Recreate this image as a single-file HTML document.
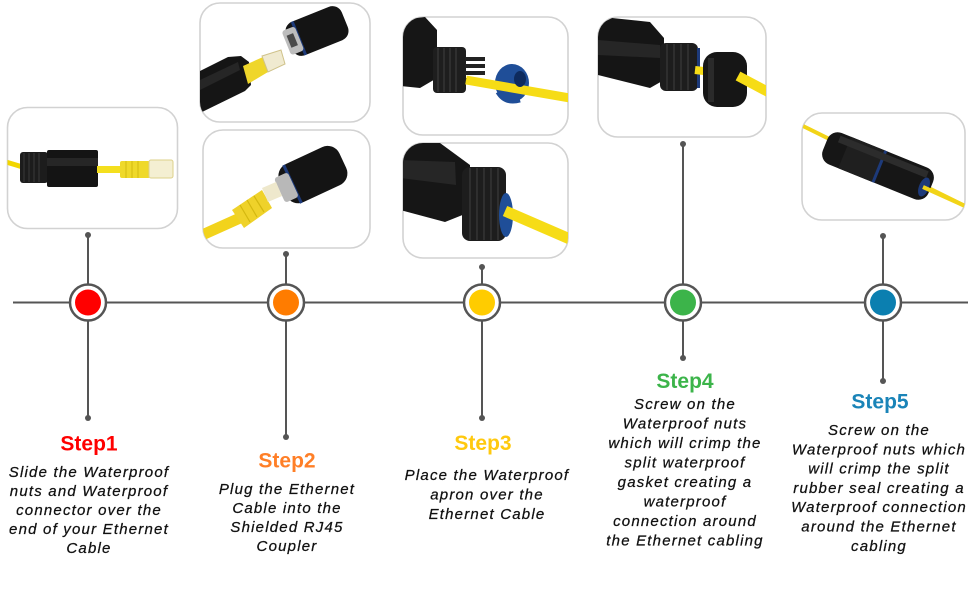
<!DOCTYPE html>
<html><head><meta charset="utf-8">
<style>
html,body{margin:0;padding:0;background:#fff;}
body{width:970px;height:600px;overflow:hidden;}
svg{display:block;}
.lb{font-family:"Liberation Sans",Arial,sans-serif;font-weight:bold;font-size:21px;text-anchor:middle;}
.tx{font-family:"Liberation Sans",Arial,sans-serif;font-style:italic;font-size:15px;letter-spacing:1.2px;fill:#111;stroke:#111;stroke-width:0.25px;text-anchor:middle;}
</style></head>
<body>
<svg width="970" height="600" viewBox="0 0 970 600" xmlns="http://www.w3.org/2000/svg">
<defs>
<clipPath id="c1"><rect x="7.5" y="107.5" width="170" height="121" rx="20"/></clipPath>
<clipPath id="c2a"><rect x="200" y="3" width="170" height="119" rx="20"/></clipPath>
<clipPath id="c2b"><rect x="203" y="130" width="167" height="118" rx="20"/></clipPath>
<clipPath id="c3a"><rect x="403" y="17" width="165" height="118" rx="20"/></clipPath>
<clipPath id="c3b"><rect x="403" y="143" width="165" height="115" rx="20"/></clipPath>
<clipPath id="c4"><rect x="598" y="17" width="168" height="120" rx="20"/></clipPath>
<clipPath id="c5"><rect x="802" y="113" width="163" height="107" rx="20"/></clipPath>
</defs>

<!-- Photo boxes -->
<g stroke="#d2d2d2" stroke-width="1.6" fill="#fff">
<rect x="7.5" y="107.5" width="170" height="121" rx="20"/>
<rect x="200" y="3" width="170" height="119" rx="20"/>
<rect x="203" y="130" width="167" height="118" rx="20"/>
<rect x="403" y="17" width="165" height="118" rx="20"/>
<rect x="403" y="143" width="165" height="115" rx="20"/>
<rect x="598" y="17" width="168" height="120" rx="20"/>
<rect x="802" y="113" width="163" height="107" rx="20"/>
</g>

<!-- Box1 photo -->
<g clip-path="url(#c1)">
<line x1="6" y1="162" x2="26" y2="168" stroke="#f2d600" stroke-width="5"/>
<rect x="20" y="152" width="28" height="31" rx="3" fill="#1c1c1c"/>
<g stroke="#3a3a3a" stroke-width="1"><line x1="24" y1="153" x2="24" y2="182"/><line x1="29" y1="153" x2="29" y2="182"/><line x1="34" y1="153" x2="34" y2="182"/><line x1="39" y1="153" x2="39" y2="182"/></g>
<rect x="47" y="150" width="51" height="37" rx="2" fill="#141414"/>
<rect x="47" y="158" width="51" height="8" fill="#262626"/>
<rect x="97" y="166" width="25" height="7" fill="#f4df1e"/>
<rect x="120" y="161" width="30" height="17" rx="2" fill="#efd92a"/>
<g stroke="#d8c015" stroke-width="1.2"><line x1="126" y1="161" x2="126" y2="178"/><line x1="132" y1="161" x2="132" y2="178"/><line x1="138" y1="161" x2="138" y2="178"/></g>
<rect x="149" y="160" width="24" height="18" rx="2" fill="#f4efd2" stroke="#ddd08a" stroke-width="1"/>
</g>

<!-- Box2a photo -->
<g clip-path="url(#c2a)">
<polygon points="198,72 228,57 241,56 249,62 251,85 245,91 198,114" fill="#151515"/>
<polygon points="200,80 238,62 240,70 200,90" fill="#262626"/>
<polygon points="243,66 263,57 268,72 248,84" fill="#efd62a"/>
<polygon points="262,56 281,50 285,64 268,72" fill="#f0ead0" stroke="#cfc28a" stroke-width="1"/>
<g transform="rotate(-22 317 31)">
<rect x="287" y="13" width="60" height="36" rx="10" fill="#141414"/>
<rect x="296" y="13" width="3" height="36" fill="#1d3a7a"/>
<rect x="284" y="18" width="14" height="26" rx="3" fill="#bdbdbd"/>
<rect x="287" y="24" width="7" height="13" fill="#4a4a4a"/>
</g>
</g>

<!-- Box2b photo -->
<g clip-path="url(#c2b)">
<line x1="200" y1="236" x2="240" y2="218" stroke="#f2d31c" stroke-width="11"/>
<polygon points="232,210 262,190 272,208 244,228" fill="#efd22a"/>
<g stroke="#d4b810" stroke-width="1.2"><line x1="240" y1="205" x2="250" y2="222"/><line x1="247" y1="200" x2="257" y2="217"/><line x1="254" y1="196" x2="264" y2="212"/></g>
<g transform="rotate(-25 312 175)">
<rect x="280" y="154" width="66" height="42" rx="13" fill="#141414"/>
<rect x="289" y="154" width="3" height="42" fill="#1d3a7a"/>
<rect x="276" y="162" width="15" height="27" rx="3" fill="#b8b8b8"/>
</g>
<polygon points="262,188 276,182 282,196 268,202" fill="#eee8cc"/>
</g>

<!-- Box3a photo -->
<g clip-path="url(#c3a)">
<polygon points="400,20 425,17 437,30 437,78 420,88 400,86" fill="#161616"/>
<rect x="433" y="47" width="33" height="46" rx="4" fill="#1e1e1e"/>
<g stroke="#3b3b3b" stroke-width="1.2"><line x1="438" y1="48" x2="438" y2="92"/><line x1="444" y1="48" x2="444" y2="92"/><line x1="450" y1="48" x2="450" y2="92"/><line x1="456" y1="48" x2="456" y2="92"/></g>
<g fill="#222"><rect x="465" y="57" width="20" height="4"/><rect x="465" y="64" width="20" height="4"/><rect x="465" y="71" width="20" height="4"/><rect x="465" y="78" width="14" height="4"/></g>
<ellipse cx="512" cy="83" rx="17" ry="19" fill="#1f4e98"/>
<line x1="466" y1="80" x2="570" y2="98" stroke="#f6dc16" stroke-width="9"/>
<ellipse cx="520" cy="79" rx="6" ry="8" fill="#0e2b5e"/>
<path d="M498,92 Q505,104 520,100" stroke="#1f4e98" stroke-width="5" fill="none"/>
</g>

<!-- Box3b photo -->
<g clip-path="url(#c3b)">
<polygon points="400,143 440,143 470,165 470,212 445,222 400,210" fill="#161616"/>
<polygon points="400,160 455,162 456,185 400,178" fill="#262626"/>
<rect x="462" y="167" width="44" height="74" rx="8" fill="#1d1d1d"/>
<g stroke="#3b3b3b" stroke-width="1.2"><line x1="470" y1="168" x2="470" y2="240"/><line x1="477" y1="168" x2="477" y2="240"/><line x1="484" y1="168" x2="484" y2="240"/><line x1="491" y1="168" x2="491" y2="240"/><line x1="498" y1="168" x2="498" y2="240"/></g>
<ellipse cx="506" cy="215" rx="7" ry="22" fill="#1f4e98"/>
<line x1="505" y1="211" x2="572" y2="240" stroke="#f6dc16" stroke-width="11"/>
</g>

<!-- Box4 photo -->
<g clip-path="url(#c4)">
<polygon points="598,25 612,18 650,22 664,38 664,80 650,88 598,75" fill="#151515"/>
<polygon points="598,40 660,45 660,58 598,55" fill="#262626"/>
<rect x="660" y="43" width="38" height="48" rx="6" fill="#1d1d1d"/>
<g stroke="#3a3a3a" stroke-width="1.2"><line x1="667" y1="44" x2="667" y2="90"/><line x1="674" y1="44" x2="674" y2="90"/><line x1="681" y1="44" x2="681" y2="90"/><line x1="688" y1="44" x2="688" y2="90"/></g>
<rect x="697" y="48" width="3" height="40" fill="#1d3a7a"/>
<line x1="695" y1="70" x2="712" y2="72" stroke="#f6dc16" stroke-width="8"/>
<rect x="703" y="52" width="44" height="55" rx="14" fill="#161616"/>
<rect x="708" y="58" width="6" height="44" fill="#2a2a2a"/>
<line x1="738" y1="76" x2="770" y2="93" stroke="#f6dc16" stroke-width="10"/>
</g>

<!-- Box5 photo -->
<g clip-path="url(#c5)">
<line x1="803" y1="126" x2="965" y2="206" stroke="#f2d418" stroke-width="4"/>
<g transform="rotate(22 878 166)">
<rect x="821" y="149" width="114" height="34" rx="11" fill="#161616"/>
<rect x="842" y="149" width="38" height="34" fill="#1f1f1f"/>
<rect x="878" y="149" width="3" height="34" fill="#1d3a7a"/>
<rect x="832" y="152" width="95" height="7" fill="#2c2c2c"/>
</g>
<ellipse cx="924" cy="187" rx="5" ry="10" transform="rotate(22 924 187)" fill="#1d3a7a"/>
<line x1="923" y1="187" x2="965" y2="206" stroke="#f2d418" stroke-width="4"/>
</g>

<!-- Timeline -->
<g stroke="#555" stroke-width="2">
<line x1="13" y1="302.5" x2="968" y2="302.5"/>
<line x1="88" y1="235" x2="88" y2="418"/>
<line x1="286" y1="254" x2="286" y2="437"/>
<line x1="482" y1="267" x2="482" y2="418"/>
<line x1="683" y1="144" x2="683" y2="358"/>
<line x1="883" y1="236" x2="883" y2="381"/>
</g>
<g fill="#555">
<circle cx="88" cy="235" r="3"/><circle cx="88" cy="418" r="3"/>
<circle cx="286" cy="254" r="3"/><circle cx="286" cy="437" r="3"/>
<circle cx="482" cy="267" r="3"/><circle cx="482" cy="418" r="3"/>
<circle cx="683" cy="144" r="3"/><circle cx="683" cy="358" r="3"/>
<circle cx="883" cy="236" r="3"/><circle cx="883" cy="381" r="3"/>
</g>
<g fill="#fff" stroke="#555" stroke-width="2.5">
<circle cx="88" cy="302.5" r="18"/>
<circle cx="286" cy="302.5" r="18"/>
<circle cx="482" cy="302.5" r="18"/>
<circle cx="683" cy="302.5" r="18"/>
<circle cx="883" cy="302.5" r="18"/>
</g>
<circle cx="88" cy="302.5" r="13" fill="#ff0000"/>
<circle cx="286" cy="302.5" r="13" fill="#ff7c00"/>
<circle cx="482" cy="302.5" r="13" fill="#ffcc00"/>
<circle cx="683" cy="302.5" r="13" fill="#3cb44a"/>
<circle cx="883" cy="302.5" r="13" fill="#0b7fb0"/>

<!-- Step labels -->
<text class="lb" x="89" y="450.5" fill="#ff0000">Step1</text>
<text class="lb" x="287" y="467.5" fill="#ff7f27">Step2</text>
<text class="lb" x="483" y="450" fill="#ffc90e">Step3</text>
<text class="lb" x="685" y="388" fill="#3cb44a">Step4</text>
<text class="lb" x="880" y="408.5" fill="#1a84b8">Step5</text>

<!-- Step texts -->
<text class="tx" x="89" y="477">Slide the Waterproof</text>
<text class="tx" x="89" y="496">nuts and Waterproof</text>
<text class="tx" x="89" y="515">connector over the</text>
<text class="tx" x="89" y="534">end of your Ethernet</text>
<text class="tx" x="89" y="553">Cable</text>

<text class="tx" x="287" y="494">Plug the Ethernet</text>
<text class="tx" x="287" y="513">Cable into the</text>
<text class="tx" x="287" y="532">Shielded RJ45</text>
<text class="tx" x="287" y="551">Coupler</text>

<text class="tx" x="487" y="480">Place the Waterproof</text>
<text class="tx" x="487" y="499.5">apron over the</text>
<text class="tx" x="487" y="519">Ethernet Cable</text>

<text class="tx" x="685" y="409">Screw on the</text>
<text class="tx" x="685" y="428.5">Waterproof nuts</text>
<text class="tx" x="685" y="448">which will crimp the</text>
<text class="tx" x="685" y="467.5">split waterproof</text>
<text class="tx" x="685" y="487">gasket creating a</text>
<text class="tx" x="685" y="506.5">waterproof</text>
<text class="tx" x="685" y="526">connection around</text>
<text class="tx" x="685" y="545.5">the Ethernet cabling</text>

<text class="tx" x="879" y="435">Screw on the</text>
<text class="tx" x="879" y="454.3">Waterproof nuts which</text>
<text class="tx" x="879" y="473.6">will crimp the split</text>
<text class="tx" x="879" y="492.9">rubber seal creating a</text>
<text class="tx" x="879" y="512.2">Waterproof connection</text>
<text class="tx" x="879" y="531.5">around the Ethernet</text>
<text class="tx" x="879" y="550.8">cabling</text>
</svg>
</body></html>
